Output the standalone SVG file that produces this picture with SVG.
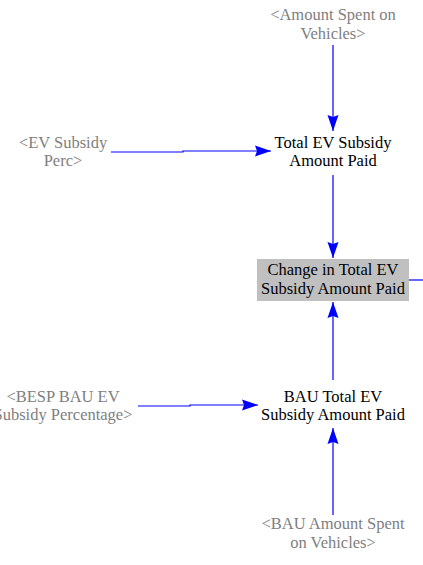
<svg xmlns="http://www.w3.org/2000/svg" width="423" height="565" viewBox="0 0 423 565">
<style>
text{font-family:"Liberation Serif","Times New Roman",serif;font-size:16.5px;text-anchor:middle}
.g{fill:#808080}
.k{fill:#000}
.c{stroke:#0000ff;stroke-width:1.2;fill:none}
</style>
<defs>
<marker id="ah" viewBox="0 0 16 12" refX="16" refY="6" markerWidth="16" markerHeight="12" markerUnits="userSpaceOnUse" orient="auto">
<path d="M0,0.5 L16,6 L0,11.5 L2,6 Z" fill="#0000ff"/>
</marker>
</defs>
<rect width="423" height="565" fill="#fff"/>
<g id="connectors">
<path class="c" d="M333,45 V131" marker-end="url(#ah)"/>
<path class="c" d="M111,152 H183 V151 H271" marker-end="url(#ah)"/>
<path class="c" d="M333,175 V258" marker-end="url(#ah)"/>
<path class="c" d="M333,380 V302" marker-end="url(#ah)"/>
<path class="c" d="M138,406 H190 V405 H258" marker-end="url(#ah)"/>
<path class="c" d="M333,515 V428" marker-end="url(#ah)"/>
<path class="c" d="M409,280 H423"/>
</g>
<g id="amountSpent"><text class="g" x="333" y="20">&lt;Amount Spent on</text><text class="g" x="333" y="39">Vehicles&gt;</text></g>
<g id="evSubsidyPerc"><text class="g" x="63" y="148">&lt;EV Subsidy</text><text class="g" x="63" y="166">Perc&gt;</text></g>
<g id="totalEV"><text class="k" x="333" y="148">Total EV Subsidy</text><text class="k" x="333" y="166">Amount Paid</text></g>
<g id="change"><rect x="257" y="259" width="152" height="42" fill="#c0c0c0"/><text class="k" x="333" y="275">Change in Total EV</text><text class="k" x="333" y="294">Subsidy Amount Paid</text></g>
<g id="bespBAU"><text class="g" x="63" y="402">&lt;BESP BAU EV</text><text class="g" x="63" y="420">Subsidy Percentage&gt;</text></g>
<g id="bauTotal"><text class="k" x="333" y="402">BAU Total EV</text><text class="k" x="333" y="420">Subsidy Amount Paid</text></g>
<g id="bauAmount"><text class="g" x="333" y="529">&lt;BAU Amount Spent</text><text class="g" x="333" y="548">on Vehicles&gt;</text></g>
</svg>
